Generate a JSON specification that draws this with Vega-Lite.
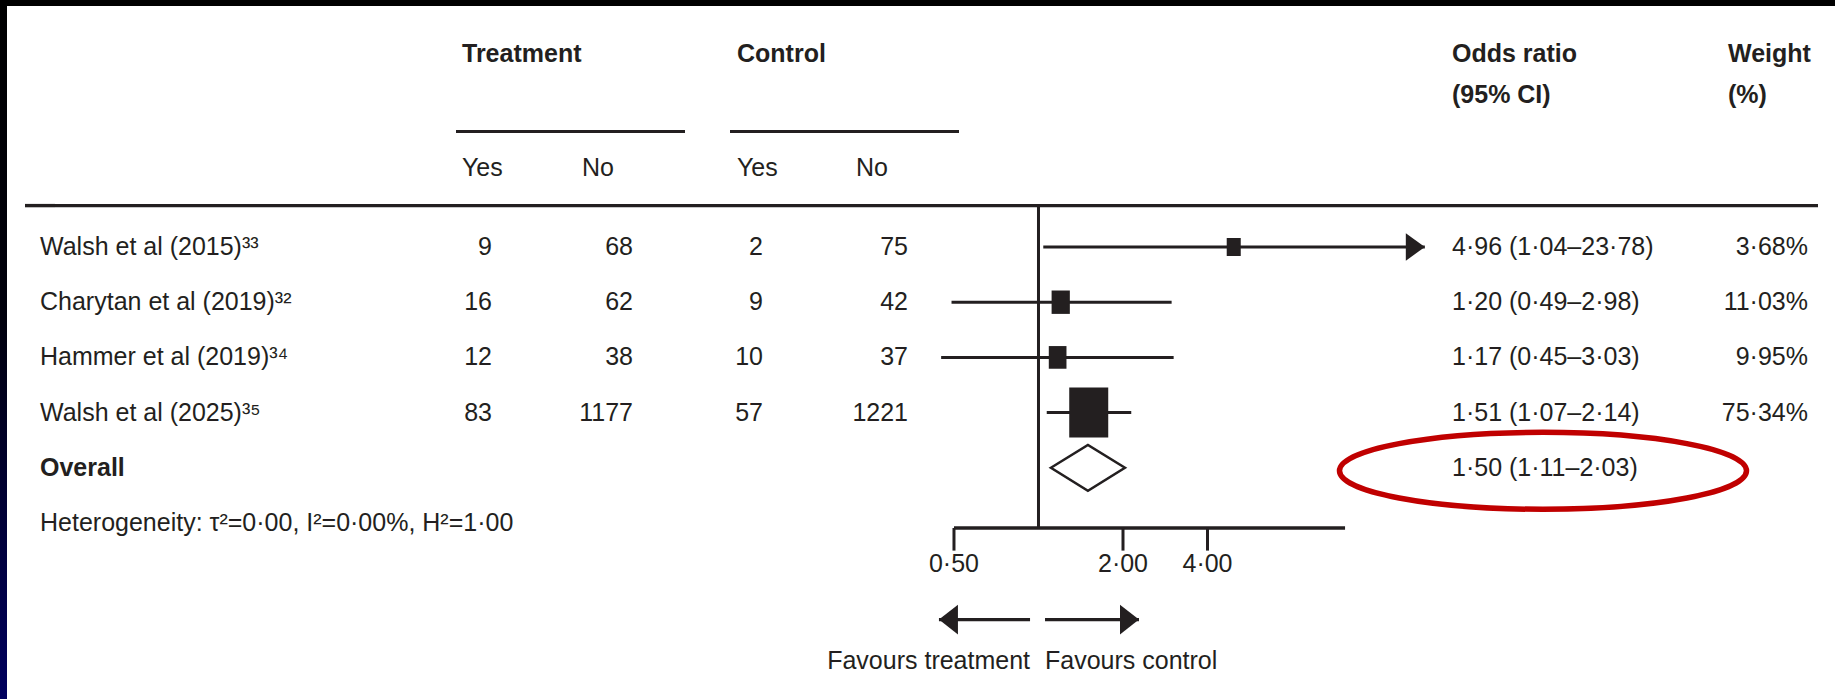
{
  "$schema": "https://vega.github.io/schema/vega-lite/v6.json",
  "background": "white",
  "padding": 0,
  "spacing": 0,
  "bounds": "flush",
  "config": {
    "view": {"stroke": null},
    "text": {"font": "Liberation Sans, Arial, sans-serif", "fontSize": 25, "color": "#231f20", "baseline": "middle"},
    "rule": {"color": "#231f20", "strokeWidth": 3},
    "point": {"opacity": 1}
  },
  "datasets": {
    "studies": [
      {"row": "Walsh et al (2015)", "label": "Walsh et al (2015)³³", "t_yes": 9, "t_no": 68, "c_yes": 2, "c_no": 75, "or": 4.96, "lo": 1.04, "hi": 23.78, "ci": "4·96 (1·04–23·78)", "weight": 3.68, "wlabel": "3·68%"},
      {"row": "Charytan et al (2019)", "label": "Charytan et al (2019)³²", "t_yes": 16, "t_no": 62, "c_yes": 9, "c_no": 42, "or": 1.20, "lo": 0.49, "hi": 2.98, "ci": "1·20 (0·49–2·98)", "weight": 11.03, "wlabel": "11·03%"},
      {"row": "Hammer et al (2019)", "label": "Hammer et al (2019)³⁴", "t_yes": 12, "t_no": 38, "c_yes": 10, "c_no": 37, "or": 1.17, "lo": 0.45, "hi": 3.03, "ci": "1·17 (0·45–3·03)", "weight": 9.95, "wlabel": "9·95%"},
      {"row": "Walsh et al (2025)", "label": "Walsh et al (2025)³⁵", "t_yes": 83, "t_no": 1177, "c_yes": 57, "c_no": 1221, "or": 1.51, "lo": 1.07, "hi": 2.14, "ci": "1·51 (1·07–2·14)", "weight": 75.34, "wlabel": "75·34%"}
    ],
    "overall": [{"row": "Overall", "or": 1.50, "lo": 1.11, "hi": 2.03, "ci": "1·50 (1·11–2·03)"}],
    "notes": [{"row": "Heterogeneity", "text": "Heterogeneity: τ²=0·00, I²=0·00%, H²=1·00"}],
    "headers": [
      {"panel": "treatment", "row": "header1", "col": "Yes", "text": "Treatment"},
      {"panel": "treatment", "row": "header3", "col": "Yes", "text": "Yes"},
      {"panel": "treatment", "row": "header3", "col": "No", "text": "No"},
      {"panel": "control", "row": "header1", "col": "Yes", "text": "Control"},
      {"panel": "control", "row": "header3", "col": "Yes", "text": "Yes"},
      {"panel": "control", "row": "header3", "col": "No", "text": "No"},
      {"panel": "stats", "row": "header1", "col": "or", "text": "Odds ratio"},
      {"panel": "stats", "row": "header2", "col": "or", "text": "(95% CI)"},
      {"panel": "stats", "row": "header1", "col": "weight", "text": "Weight"},
      {"panel": "stats", "row": "header2", "col": "weight", "text": "(%)"}
    ],
    "separator": [{"row": "separator"}],
    "underline": [{"row": "underline"}],
    "ticks": [{"v": 0.5, "label": "0·50"}, {"v": 2, "label": "2·00"}, {"v": 4, "label": "4·00"}],
    "axis": [{"row": "Heterogeneity", "from": 0.5, "to": 12.36}],
    "favours": [
      {"side": "treatment", "tail": 0.933, "tip": 0.442, "text": "Favours treatment"},
      {"side": "control", "tail": 1.055, "tip": 2.28, "text": "Favours control"}
    ],
    "border": [{"part": "border"}],
    "none": []
  },
  "vconcat": [
    {"width": 1835, "height": 6, "data": {"name": "border"}, "mark": {"type": "rect", "color": "#000000"}},
    {
      "spacing": 0,
      "bounds": "flush",
      "hconcat": [
        {"width": 7, "height": 693, "data": {"name": "border"},
         "mark": {"type": "rect", "color": {"gradient": "linear", "x1": 0, "y1": 0, "x2": 0, "y2": 1, "stops": [{"offset": 0, "color": "#000000"}, {"offset": 0.45, "color": "#00000c"}, {"offset": 1, "color": "#00005e"}]}}},
        {"width": 18, "height": 693, "data": {"name": "none"}, "mark": "rect"},
        {
          "width": 30, "height": 693,
          "encoding": {"y": {"field": "row", "type": "nominal", "axis": null, "scale": {"type": "point", "round": false, "padding": 0.609, "align": 0.381, "domain": ["~t1","~t2","~t3","header1","~1","~2","header2","~3","~4","underline","~5","header3","~6","~7","separator","~8","~9","Walsh et al (2015)","~10","~11","~12","Charytan et al (2019)","~13","~14","~15","Hammer et al (2019)","~16","~17","~18","Walsh et al (2025)","~19","~20","~21","Overall","~22","~23","~24","Heterogeneity","~25","tick end","tick labels","~26","~27","~28","arrows","~29","~30","favours","~b1","~b2"]}}},
          "layer": [
            {"data": {"name": "separator"}, "mark": {"type": "rule", "strokeWidth": 3.4}},
            {"data": {"name": "studies"}, "mark": {"type": "text", "align": "left"}, "encoding": {"text": {"field": "label", "type": "nominal"}}},
            {"data": {"name": "overall"}, "mark": {"type": "text", "align": "left", "fontWeight": "bold"}, "encoding": {"text": {"field": "row", "type": "nominal"}}},
            {"data": {"name": "notes"}, "mark": {"type": "text", "align": "left"}, "encoding": {"text": {"field": "text", "type": "nominal"}}}
          ]
        },
        {
          "width": 401, "height": 693,
          "data": {"name": "separator"},
          "mark": {"type": "rule", "strokeWidth": 3.4},
          "encoding": {"y": {"field": "row", "type": "nominal", "axis": null, "scale": {"type": "point", "round": false, "padding": 0.609, "align": 0.381, "domain": ["~t1","~t2","~t3","header1","~1","~2","header2","~3","~4","underline","~5","header3","~6","~7","separator","~8","~9","Walsh et al (2015)","~10","~11","~12","Charytan et al (2019)","~13","~14","~15","Hammer et al (2019)","~16","~17","~18","Walsh et al (2025)","~19","~20","~21","Overall","~22","~23","~24","Heterogeneity","~25","tick end","tick labels","~26","~27","~28","arrows","~29","~30","favours","~b1","~b2"]}}}
        },
        {
          "width": 229, "height": 693,
          "resolve": {"scale": {"x": "independent"}},
          "encoding": {"y": {"field": "row", "type": "nominal", "axis": null, "scale": {"type": "point", "round": false, "padding": 0.609, "align": 0.381, "domain": ["~t1","~t2","~t3","header1","~1","~2","header2","~3","~4","underline","~5","header3","~6","~7","separator","~8","~9","Walsh et al (2015)","~10","~11","~12","Charytan et al (2019)","~13","~14","~15","Hammer et al (2019)","~16","~17","~18","Walsh et al (2025)","~19","~20","~21","Overall","~22","~23","~24","Heterogeneity","~25","tick end","tick labels","~26","~27","~28","arrows","~29","~30","favours","~b1","~b2"]}}},
          "layer": [
            {"data": {"name": "separator"}, "mark": {"type": "rule", "strokeWidth": 3.4}},
            {"data": {"name": "underline"}, "mark": {"type": "rule", "strokeWidth": 3, "yOffset": -5}},
            {"data": {"name": "headers"}, "transform": [{"filter": "datum.panel == 'treatment' && datum.row == 'header1'"}],
             "mark": {"type": "text", "align": "left", "fontWeight": "bold"},
             "encoding": {"x": {"field": "col", "type": "nominal", "axis": null, "scale": {"type": "point", "domain": ["Yes", "No"], "padding": 0.454, "align": 0.055, "round": false}}, "text": {"field": "text", "type": "nominal"}}},
            {"data": {"name": "headers"}, "transform": [{"filter": "datum.panel == 'treatment' && datum.row == 'header3'"}],
             "mark": {"type": "text", "align": "left", "dy": 4},
             "encoding": {"x": {"field": "col", "type": "nominal", "axis": null, "scale": {"type": "point", "domain": ["Yes", "No"], "padding": 0.454, "align": 0.055, "round": false}}, "text": {"field": "text", "type": "nominal"}}},
            {"data": {"name": "studies"}, "transform": [{"fold": ["t_yes", "t_no"], "as": ["col", "n"]}],
             "mark": {"type": "text", "align": "right"},
             "encoding": {"x": {"field": "col", "type": "nominal", "axis": null, "scale": {"type": "point", "domain": ["t_yes", "t_no"], "padding": 0.312, "align": 0.409, "round": false}}, "text": {"field": "n", "type": "nominal"}}}
          ]
        },
        {
          "width": 45, "height": 693,
          "data": {"name": "separator"},
          "mark": {"type": "rule", "strokeWidth": 3.4},
          "encoding": {"y": {"field": "row", "type": "nominal", "axis": null, "scale": {"type": "point", "round": false, "padding": 0.609, "align": 0.381, "domain": ["~t1","~t2","~t3","header1","~1","~2","header2","~3","~4","underline","~5","header3","~6","~7","separator","~8","~9","Walsh et al (2015)","~10","~11","~12","Charytan et al (2019)","~13","~14","~15","Hammer et al (2019)","~16","~17","~18","Walsh et al (2025)","~19","~20","~21","Overall","~22","~23","~24","Heterogeneity","~25","tick end","tick labels","~26","~27","~28","arrows","~29","~30","favours","~b1","~b2"]}}}
        },
        {
          "width": 229, "height": 693,
          "resolve": {"scale": {"x": "independent"}},
          "encoding": {"y": {"field": "row", "type": "nominal", "axis": null, "scale": {"type": "point", "round": false, "padding": 0.609, "align": 0.381, "domain": ["~t1","~t2","~t3","header1","~1","~2","header2","~3","~4","underline","~5","header3","~6","~7","separator","~8","~9","Walsh et al (2015)","~10","~11","~12","Charytan et al (2019)","~13","~14","~15","Hammer et al (2019)","~16","~17","~18","Walsh et al (2025)","~19","~20","~21","Overall","~22","~23","~24","Heterogeneity","~25","tick end","tick labels","~26","~27","~28","arrows","~29","~30","favours","~b1","~b2"]}}},
          "layer": [
            {"data": {"name": "separator"}, "mark": {"type": "rule", "strokeWidth": 3.4}},
            {"data": {"name": "underline"}, "mark": {"type": "rule", "strokeWidth": 3, "yOffset": -5}},
            {"data": {"name": "headers"}, "transform": [{"filter": "datum.panel == 'control' && datum.row == 'header1'"}],
             "mark": {"type": "text", "align": "left", "fontWeight": "bold"},
             "encoding": {"x": {"field": "col", "type": "nominal", "axis": null, "scale": {"type": "point", "domain": ["Yes", "No"], "padding": 0.462, "align": 0.0636, "round": false}}, "text": {"field": "text", "type": "nominal"}}},
            {"data": {"name": "headers"}, "transform": [{"filter": "datum.panel == 'control' && datum.row == 'header3'"}],
             "mark": {"type": "text", "align": "left", "dy": 4},
             "encoding": {"x": {"field": "col", "type": "nominal", "axis": null, "scale": {"type": "point", "domain": ["Yes", "No"], "padding": 0.462, "align": 0.0636, "round": false}}, "text": {"field": "text", "type": "nominal"}}},
            {"data": {"name": "studies"}, "transform": [{"fold": ["c_yes", "c_no"], "as": ["col", "n"]}],
             "mark": {"type": "text", "align": "right"},
             "encoding": {"x": {"field": "col", "type": "nominal", "axis": null, "scale": {"type": "point", "domain": ["c_yes", "c_no"], "padding": 0.2897, "align": 0.393, "round": false}}, "text": {"field": "n", "type": "nominal"}}}
          ]
        },
        {
          "width": 481, "height": 693,
          "encoding": {"y": {"field": "row", "type": "nominal", "axis": null, "scale": {"type": "point", "round": false, "padding": 0.609, "align": 0.381, "domain": ["~t1","~t2","~t3","header1","~1","~2","header2","~3","~4","underline","~5","header3","~6","~7","separator","~8","~9","Walsh et al (2015)","~10","~11","~12","Charytan et al (2019)","~13","~14","~15","Hammer et al (2019)","~16","~17","~18","Walsh et al (2025)","~19","~20","~21","Overall","~22","~23","~24","Heterogeneity","~25","tick end","tick labels","~26","~27","~28","arrows","~29","~30","favours","~b1","~b2"]}}},
          "layer": [
            {"data": {"name": "separator"}, "mark": {"type": "rule", "strokeWidth": 3.4}},
            {"data": {"name": "separator"}, "mark": {"type": "rule", "strokeWidth": 3, "y2Offset": 5},
             "encoding": {"x": {"datum": 1, "type": "quantitative", "axis": null, "scale": {"type": "log", "domain": [0.521, 26.93], "nice": false}}, "y2": {"datum": "Heterogeneity"}}},
            {"data": {"name": "studies"}, "mark": {"type": "rule", "strokeWidth": 3},
             "encoding": {"x": {"field": "lo", "type": "quantitative", "axis": null, "scale": {"type": "log", "domain": [0.521, 26.93], "nice": false}}, "x2": {"field": "hi"}}},
            {"data": {"name": "studies"}, "mark": {"type": "point", "shape": "M-0.78,-1L0.78,-1L0.78,1L-0.78,1Z", "filled": true, "color": "#231f20", "opacity": 1},
             "encoding": {"x": {"field": "or", "type": "quantitative", "axis": null, "scale": {"type": "log", "domain": [0.521, 26.93], "nice": false}},
                          "size": {"field": "weight", "type": "quantitative", "legend": null, "scale": {"type": "linear", "domain": [0, 75.34], "range": [212, 2500], "zero": false}}}},
            {"data": {"name": "studies"}, "transform": [{"filter": "datum.hi > 12.36"}],
             "mark": {"type": "point", "shape": "M0,0L-1,-0.72L-1,0.72Z", "size": 1444, "filled": true, "color": "#231f20", "opacity": 1},
             "encoding": {"x": {"field": "hi", "type": "quantitative", "axis": null, "scale": {"type": "log", "domain": [0.521, 26.93], "nice": false}}}},
            {"data": {"name": "overall"}, "mark": {"type": "point", "shape": "M-1,0L0,-0.62L1,0L0,0.62Z", "size": 5476, "filled": true, "fill": "white", "stroke": "#231f20", "strokeWidth": 2.5, "opacity": 1},
             "encoding": {"x": {"field": "or", "type": "quantitative", "axis": null, "scale": {"type": "log", "domain": [0.521, 26.93], "nice": false}}}},
            {"data": {"name": "axis"}, "mark": {"type": "rule", "strokeWidth": 3.4, "yOffset": 5},
             "encoding": {"x": {"field": "from", "type": "quantitative", "axis": null, "scale": {"type": "log", "domain": [0.521, 26.93], "nice": false}}, "x2": {"field": "to"}}},
            {"data": {"name": "ticks"}, "mark": {"type": "rule", "strokeWidth": 3, "yOffset": 5},
             "encoding": {"x": {"field": "v", "type": "quantitative", "axis": null, "scale": {"type": "log", "domain": [0.521, 26.93], "nice": false}}, "y": {"datum": "Heterogeneity"}, "y2": {"datum": "tick end"}}},
            {"data": {"name": "ticks"}, "mark": {"type": "text", "align": "center"},
             "encoding": {"x": {"field": "v", "type": "quantitative", "axis": null, "scale": {"type": "log", "domain": [0.521, 26.93], "nice": false}}, "y": {"datum": "tick labels"}, "text": {"field": "label", "type": "nominal"}}},
            {"data": {"name": "favours"}, "mark": {"type": "rule", "strokeWidth": 3.4},
             "encoding": {"x": {"field": "tail", "type": "quantitative", "axis": null, "scale": {"type": "log", "domain": [0.521, 26.93], "nice": false}}, "x2": {"field": "tip"}, "y": {"datum": "arrows"}}},
            {"data": {"name": "favours"}, "mark": {"type": "point", "size": 1444, "filled": true, "color": "#231f20", "opacity": 1},
             "encoding": {"x": {"field": "tip", "type": "quantitative", "axis": null, "scale": {"type": "log", "domain": [0.521, 26.93], "nice": false}}, "y": {"datum": "arrows"},
                          "shape": {"field": "side", "type": "nominal", "legend": null, "scale": {"domain": ["treatment", "control"], "range": ["M0,0L1,-0.78L1,0.78Z", "M0,0L-1,-0.78L-1,0.78Z"]}}}},
            {"data": {"name": "favours"}, "transform": [{"filter": "datum.side == 'treatment'"}], "mark": {"type": "text", "align": "right"},
             "encoding": {"x": {"field": "tail", "type": "quantitative", "axis": null, "scale": {"type": "log", "domain": [0.521, 26.93], "nice": false}}, "y": {"datum": "favours"}, "text": {"field": "text", "type": "nominal"}}},
            {"data": {"name": "favours"}, "transform": [{"filter": "datum.side == 'control'"}], "mark": {"type": "text", "align": "left"},
             "encoding": {"x": {"field": "tail", "type": "quantitative", "axis": null, "scale": {"type": "log", "domain": [0.521, 26.93], "nice": false}}, "y": {"datum": "favours"}, "text": {"field": "text", "type": "nominal"}}}
          ]
        },
        {
          "width": 378, "height": 693,
          "resolve": {"scale": {"x": "independent"}},
          "encoding": {"y": {"field": "row", "type": "nominal", "axis": null, "scale": {"type": "point", "round": false, "padding": 0.609, "align": 0.381, "domain": ["~t1","~t2","~t3","header1","~1","~2","header2","~3","~4","underline","~5","header3","~6","~7","separator","~8","~9","Walsh et al (2015)","~10","~11","~12","Charytan et al (2019)","~13","~14","~15","Hammer et al (2019)","~16","~17","~18","Walsh et al (2025)","~19","~20","~21","Overall","~22","~23","~24","Heterogeneity","~25","tick end","tick labels","~26","~27","~28","arrows","~29","~30","favours","~b1","~b2"]}}},
          "layer": [
            {"data": {"name": "separator"}, "mark": {"type": "rule", "strokeWidth": 3.4}},
            {"data": {"name": "headers"}, "transform": [{"filter": "datum.panel == 'stats'"}],
             "mark": {"type": "text", "align": "left", "fontWeight": "bold"},
             "encoding": {"x": {"field": "col", "type": "nominal", "axis": null, "scale": {"type": "point", "domain": ["or", "weight"], "padding": 0.1848, "align": 0.1176, "round": false}}, "text": {"field": "text", "type": "nominal"}}},
            {"data": {"name": "studies"}, "mark": {"type": "text", "align": "left"},
             "encoding": {"x": {"datum": "or", "type": "nominal", "axis": null, "scale": {"type": "point", "domain": ["or", "weight"], "padding": 0.1848, "align": 0.1176, "round": false}}, "text": {"field": "ci", "type": "nominal"}}},
            {"data": {"name": "overall"}, "mark": {"type": "text", "align": "left"},
             "encoding": {"x": {"datum": "or", "type": "nominal", "axis": null, "scale": {"type": "point", "domain": ["or", "weight"], "padding": 0.1848, "align": 0.1176, "round": false}}, "text": {"field": "ci", "type": "nominal"}}},
            {"data": {"name": "studies"}, "mark": {"type": "text", "align": "right"},
             "encoding": {"x": {"datum": "weight", "type": "nominal", "axis": null, "scale": {"type": "point", "domain": ["weight"], "align": 0.9735, "round": false}}, "text": {"field": "wlabel", "type": "nominal"}}},
            {"data": {"name": "overall"}, "mark": {"type": "point", "shape": "M-1,0C-1,-0.1044,-0.5523,-0.189,0,-0.189C0.5523,-0.189,1,-0.1044,1,0C1,0.1044,0.5523,0.189,0,0.189C-0.5523,0.189,-1,0.1044,-1,0Z", "size": 165649, "filled": false, "color": "#c00000", "strokeWidth": 5.5, "opacity": 1, "xOffset": 91, "yOffset": 3},
             "encoding": {"x": {"datum": "or", "type": "nominal", "axis": null, "scale": {"type": "point", "domain": ["or", "weight"], "padding": 0.1848, "align": 0.1176, "round": false}}}}
          ]
        }
      ]
    }
  ]
}
